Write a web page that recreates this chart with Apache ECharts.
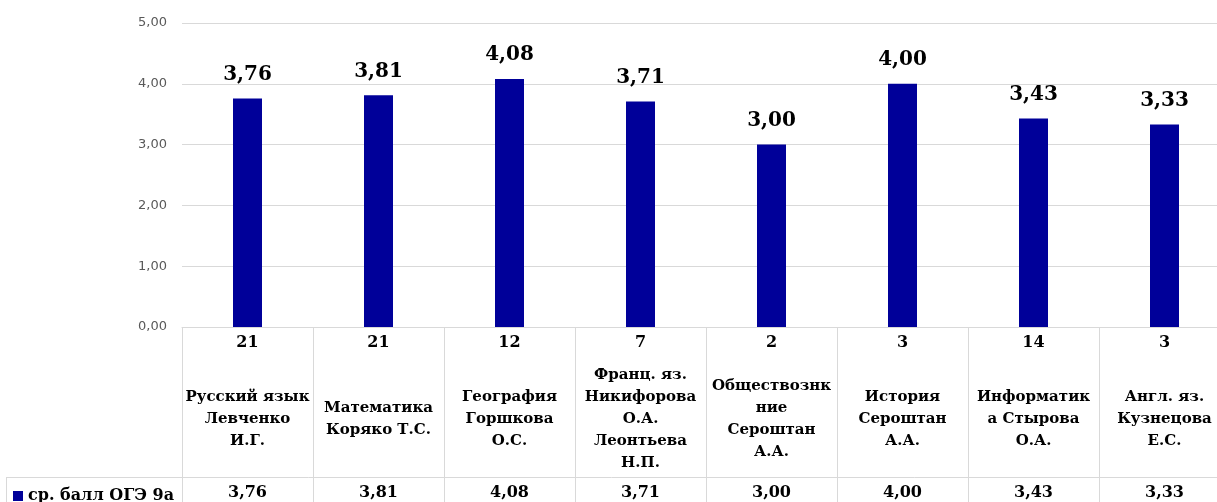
<!DOCTYPE html>
<html>
<head>
<meta charset="utf-8">
<script src="https://cdn.jsdelivr.net/npm/echarts@6/dist/echarts.min.js"></script>
<style>
html,body{margin:0;padding:0;background:#fff;}
#chart{width:1217px;height:502px;}
</style>
</head>
<body>
<div id="chart"></div>
<script>
const categories = [
  "Русский язык\nЛевченко\nИ.Г.",
  "Математика\nКоряко Т.С.",
  "География\nГоршкова\nО.С.",
  "Франц. яз.\nНикифорова\nО.А.\nЛеонтьева\nН.П.",
  "Обществознк\nние\nСероштан\nА.А.",
  "История\nСероштан\nА.А.",
  "Информатик\nа Стырова\nО.А.",
  "Англ. яз.\nКузнецова\nЕ.С."
];
const counts = ["21", "21", "12", "7", "2", "3", "14", "3"];
const seriesName = "ср. балл ОГЭ 9а";
const values = [3.76, 3.81, 4.08, 3.71, 3.00, 4.00, 3.43, 3.33];
const yTicks = [0, 1, 2, 3, 4, 5];

const fmt = v => Number(v).toFixed(2).replace('.', ',');
const SERIF = '"DejaVu Serif", serif';
const GRID_C = '#d9d9d9';

const nameStyle = {
  verticalAlign: 'middle', lineHeight: 22, align: 'center',
  fontFamily: SERIF, fontWeight: 'bold', fontSize: 15, color: '#000'
};
// names taller than the cell get pushed up (as in the source)
const nameData = categories.map(c => {
  const lines = c.split('\n').length;
  return lines > 4
    ? { value: c, textStyle: Object.assign({}, nameStyle, { padding: [0, 0, 22, 0] }) }
    : c;
});

const chart = echarts.init(document.getElementById('chart'));
chart.setOption({
  animation: false,
  backgroundColor: '#fff',
  grid: { left: 182, right: -13, top: 23, bottom: 175, outerBoundsMode: 'none', containLabel: false },
  legend: {
    left: 13, top: 488, padding: 0,
    icon: 'rect', itemWidth: 10, itemHeight: 10, itemGap: 5,
    textStyle: { fontFamily: SERIF, fontWeight: 'bold', fontSize: 16, color: '#000' },
    data: [seriesName]
  },
  yAxis: {
    type: 'value', min: yTicks[0], max: yTicks[yTicks.length - 1], interval: 1,
    axisLine: { show: false }, axisTick: { show: false },
    splitLine: { lineStyle: { color: GRID_C, width: 1 } },
    axisLabel: { formatter: fmt, color: '#595959', fontSize: 13, fontFamily: '"DejaVu Sans", sans-serif', margin: 15 }
  },
  xAxis: [
    {
      type: 'category', data: nameData, position: 'bottom',
      axisLine: { lineStyle: { color: GRID_C, width: 1 } },
      axisTick: { show: true, interval: 0, length: 175, lineStyle: { color: GRID_C, width: 1 } },
      axisLabel: Object.assign({ interval: 0, margin: 92, hideOverlap: false }, nameStyle)
    },
    {
      type: 'category', data: counts, position: 'bottom',
      axisLine: { show: false }, axisTick: { show: false },
      axisLabel: { interval: 0, margin: 16, verticalAlign: 'middle', fontFamily: SERIF, fontWeight: 'bold', fontSize: 16, color: '#000' }
    },
    {
      type: 'category', data: values.map(fmt), position: 'bottom',
      axisLine: { show: false }, axisTick: { show: false },
      axisLabel: { interval: 0, margin: 166, verticalAlign: 'middle', fontFamily: SERIF, fontWeight: 'bold', fontSize: 16, color: '#000' }
    }
  ],
  graphic: [
    { type: 'line', shape: { x1: 6, y1: 477.5, x2: 1217, y2: 477.5 }, style: { stroke: GRID_C, lineWidth: 1 }, silent: true },
    { type: 'line', shape: { x1: 6.5, y1: 477, x2: 6.5, y2: 502 }, style: { stroke: GRID_C, lineWidth: 1 }, silent: true }
  ],
  series: [{
    name: seriesName, type: 'bar', xAxisIndex: 0, data: values,
    barWidth: 29, itemStyle: { color: '#000099' },
    label: {
      show: true, position: 'top', distance: 14, formatter: p => fmt(p.value),
      fontFamily: SERIF, fontWeight: 'bold', fontSize: 20, color: '#000'
    }
  }]
});
</script>
</body>
</html>
